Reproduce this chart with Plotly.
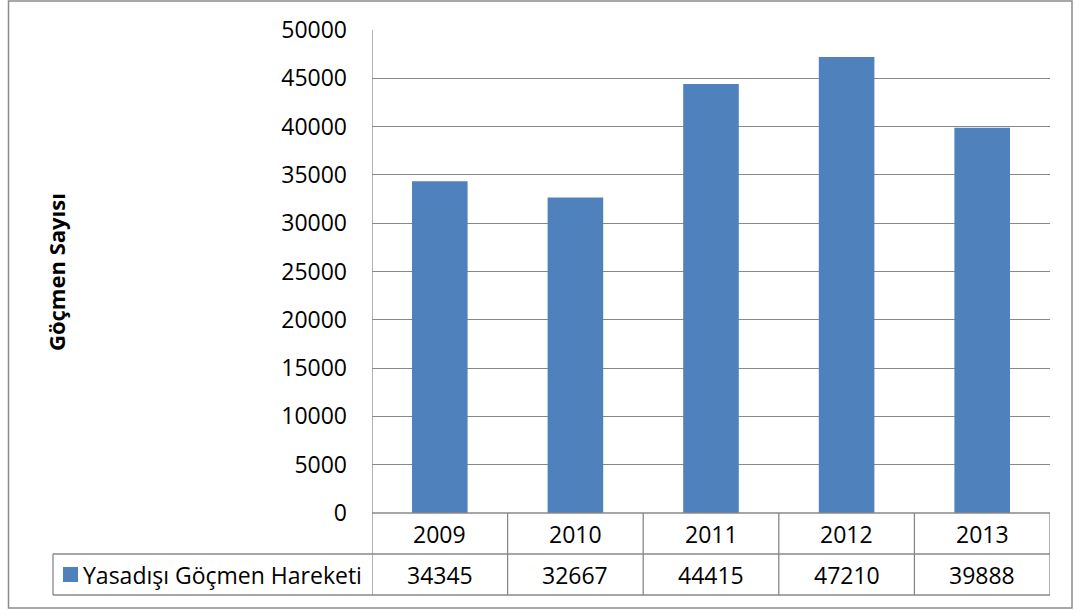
import plotly.graph_objects as go

years = ["2009", "2010", "2011", "2012", "2013"]
values = [34345, 32667, 44415, 47210, 39888]
series_name = "Yasadışı Göçmen Hareketi"
y_title = "Göçmen Sayısı"
y_ticks = [0, 5000, 10000, 15000, 20000, 25000, 30000, 35000, 40000, 45000, 50000]

W, H = 1080, 610
PL, PR, PT, PB = 372, 1050, 30, 513  # plot area in page pixels
L, R, T, B = PL, W - PR, PT, H - PB
pw, ph = W - L - R, H - T - B

def px_x(p):
    return (p - L) / pw

def px_y(p):
    return (H - B - p) / ph

FONT = "Open Sans"
FS = 23
BLUE = "#4F81BD"
GRID = "#888888"

fig = go.Figure()
fig.add_trace(go.Bar(x=list(range(len(years))), y=values, marker=dict(color=BLUE, line=dict(width=0)),
                     width=0.41, name=series_name, showlegend=False, hoverinfo="skip"))

shapes = []
line = dict(color=GRID, width=1.3)
row1_bot = px_y(554)
row2_bot = px_y(595)
shapes.append(dict(type="line", xref="paper", yref="paper", x0=px_x(53), x1=1, y0=row1_bot, y1=row1_bot, line=line))
shapes.append(dict(type="line", xref="paper", yref="paper", x0=px_x(53), x1=1, y0=row2_bot, y1=row2_bot, line=line))
shapes.append(dict(type="line", xref="paper", yref="paper", x0=px_x(53), x1=px_x(53), y0=row1_bot, y1=row2_bot, line=line))
shapes.append(dict(type="line", xref="paper", yref="paper", x0=0, x1=1, y0=0, y1=0, line=line))
for i in range(len(years) + 1):
    top = 1 if i == 0 else 0
    shapes.append(dict(type="line", xref="x", yref="paper", x0=i - 0.5, x1=i - 0.5,
                       y0=row2_bot, y1=top, line=line))
shapes.append(dict(type="rect", xref="paper", yref="paper", x0=px_x(63), x1=px_x(78),
                   y0=px_y(582), y1=px_y(567), fillcolor=BLUE, line=dict(width=0)))
shapes.append(dict(type="rect", xref="paper", yref="paper", x0=px_x(8.5), x1=px_x(1072),
                   y0=px_y(608), y1=px_y(1), line=dict(color="#8C8C8C", width=1.5)))

annotations = []
for i, (yr, v) in enumerate(zip(years, values)):
    annotations.append(dict(x=i, xref="x", y=px_y(534), yref="paper", text=yr, showarrow=False,
                            font=dict(family=FONT, size=FS, color="#000"), xanchor="center", yanchor="middle"))
    annotations.append(dict(x=i, xref="x", y=px_y(575), yref="paper", text=str(v), showarrow=False,
                            font=dict(family=FONT, size=FS, color="#000"), xanchor="center", yanchor="middle"))
annotations.append(dict(x=px_x(81), xref="paper", y=px_y(575), yref="paper", text=series_name, showarrow=False,
                        font=dict(family=FONT, size=FS, color="#000"), xanchor="left", yanchor="middle"))
annotations.append(dict(x=px_x(56), xref="paper", y=px_y(272), yref="paper", text="<b>" + y_title + "</b>",
                        textangle=-90, showarrow=False, font=dict(family=FONT, size=22, color="#000"),
                        xanchor="center", yanchor="middle"))

fig.update_layout(
    width=W, height=H, autosize=False,
    margin=dict(l=L, r=R, t=T, b=B, autoexpand=False),
    paper_bgcolor="white", plot_bgcolor="white",
    font=dict(family=FONT, size=FS, color="#000"),
    xaxis=dict(range=[-0.5, len(years) - 0.5], showticklabels=False,
               showgrid=False, zeroline=False, showline=False, ticks=""),
    yaxis=dict(range=[0, 50000], tickvals=y_ticks, tickformat="d", showgrid=True, gridcolor=GRID, gridwidth=1.3,
               zeroline=False, showline=False, ticks="", ticklabelstandoff=24,
               tickfont=dict(family=FONT, size=FS, color="#000")),
    shapes=shapes, annotations=annotations,
)

fig.write_html("out.html", config={"displayModeBar": False},
               post_script="document.body.style.margin='0';document.body.style.overflow='hidden';")
